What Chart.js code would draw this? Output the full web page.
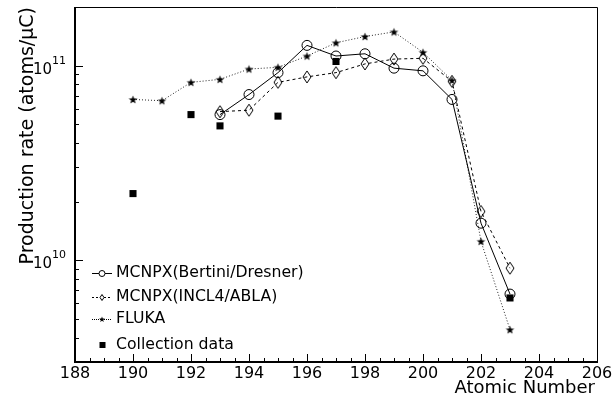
<!DOCTYPE html>
<html>
<head>
<meta charset="utf-8">
<script src="https://cdn.jsdelivr.net/npm/chart.js@4.4.1/dist/chart.umd.min.js"></script>
<style>
  html, body { margin: 0; padding: 0; background: #fff; }
  #wrap { width: 612px; height: 401px; position: relative; }
</style>
</head>
<body>
<div id="wrap"><canvas id="prodChart"></canvas></div>
<script>
// production rates per atomic number (atoms/uC)
const zBertini = [193, 194, 195, 196, 197, 198, 199, 200, 201, 202, 203];
const bertini = [5.6e10, 7.1e10, 9.2e10, 1.27e11, 1.12e11, 1.15e11, 9.7e10, 9.4e10, 6.7e10, 1.55e10, 6.7e9];

const zIncl = [193, 194, 195, 196, 197, 198, 199, 200, 201, 202, 203];
const incl4 = [5.8e10, 5.9e10, 8.2e10, 8.75e10, 9.2e10, 1.02e11, 1.08e11, 1.09e11, 8.3e10, 1.78e10, 9.1e9];

const zFluka = [190, 191, 192, 193, 194, 195, 196, 197, 198, 199, 200, 201, 202, 203];
const fluka = [6.7e10, 6.6e10, 8.2e10, 8.5e10, 9.6e10, 9.8e10, 1.12e11, 1.31e11, 1.41e11, 1.49e11, 1.17e11, 8.4e10, 1.25e10, 4.4e9];

const zMeasured = [190, 192, 193, 195, 197, 203];
const measured = [2.2e10, 5.6e10, 4.9e10, 5.5e10, 1.05e11, 6.4e9];

const seriesNames = ["MCNPX(Bertini/Dresner)", "MCNPX(INCL4/ABLA)", "FLUKA", "Collection data"];

const xTicks = [188, 190, 192, 194, 196, 198, 200, 202, 204, 206];
const yDecades = [10, 11];

const FONT = '"DejaVu Sans", sans-serif';

function pairs(xs, ys) {
    return xs.map((x, i) => ({ x: x, y: ys[i] }));
}

// little marker sprites
function starSprite(r) {
    const c = document.createElement("canvas");
    const s = Math.ceil(r * 2 + 2);
    c.width = s; c.height = s;
    const g = c.getContext("2d");
    drawStar(g, s / 2, s / 2 + r * 0.1, r);
    return c;
}
function drawStar(g, cx, cy, r) {
    g.beginPath();
    for (let i = 0; i < 10; i++) {
        const rr = i % 2 === 0 ? r : r * 0.42;
        const a = -Math.PI / 2 + i * Math.PI / 5;
        const px = cx + rr * Math.cos(a), py = cy + rr * Math.sin(a);
        if (i === 0) g.moveTo(px, py); else g.lineTo(px, py);
    }
    g.closePath();
    g.fillStyle = "#000";
    g.fill();
}
function diamondSprite(w, h) {
    const c = document.createElement("canvas");
    c.width = w + 2; c.height = h + 2;
    const g = c.getContext("2d");
    drawDiamond(g, c.width / 2, c.height / 2, w, h);
    return c;
}
function drawDiamond(g, cx, cy, w, h) {
    g.beginPath();
    g.moveTo(cx, cy - h / 2);
    g.lineTo(cx + w / 2, cy);
    g.lineTo(cx, cy + h / 2);
    g.lineTo(cx - w / 2, cy);
    g.closePath();
    g.strokeStyle = "#000";
    g.lineWidth = 1;
    g.stroke();
}

// frame, inward ticks, labels, titles and legend
const frameAndText = {
    id: "frameAndText",
    afterDraw(chart) {
        const ctx = chart.ctx;
        const area = chart.chartArea;
        const xs = chart.scales.x, ys = chart.scales.y;
        ctx.save();
        ctx.strokeStyle = "#000";
        ctx.fillStyle = "#000";

        // frame
        ctx.lineWidth = 1;
        ctx.beginPath();
        ctx.moveTo(area.left, area.top + 0.5);
        ctx.lineTo(area.right + 0.5, area.top + 0.5);
        ctx.lineTo(area.right + 0.5, area.bottom);
        ctx.stroke();
        ctx.lineWidth = 2;
        ctx.beginPath();
        ctx.moveTo(area.left, area.top);
        ctx.lineTo(area.left, area.bottom);
        ctx.lineTo(area.right + 1, area.bottom);
        ctx.stroke();

        // x ticks: major every 2, minor every 0.5
        ctx.lineWidth = 1;
        ctx.beginPath();
        for (let v = xs.min; v <= xs.max + 1e-9; v += 0.5) {
            const px = Math.round(xs.getPixelForValue(v)) + 0.5;
            const len = (Math.abs(v % 2) < 1e-9) ? 8 : 4;
            ctx.moveTo(px, area.bottom);
            ctx.lineTo(px, area.bottom - len);
        }
        ctx.stroke();

        // y ticks on log scale
        ctx.beginPath();
        for (let e = 9; e <= 11; e++) {
            for (let k = 1; k <= 9; k++) {
                const v = k * Math.pow(10, e);
                if (v < ys.min || v > ys.max * 0.999) continue;
                const py = Math.round(ys.getPixelForValue(v)) + 0.5;
                const len = k === 1 ? 8 : 4;
                ctx.moveTo(area.left, py);
                ctx.lineTo(area.left + len, py);
            }
        }
        ctx.stroke();

        // x tick labels
        ctx.font = "16px " + FONT;
        ctx.textAlign = "center";
        ctx.textBaseline = "alphabetic";
        xTicks.forEach(v => {
            ctx.fillText(String(v), xs.getPixelForValue(v), area.bottom + 16);
        });

        // y tick labels, 10 with exponent
        yDecades.forEach(e => {
            const py = ys.getPixelForValue(Math.pow(10, e));
            ctx.font = "15px " + FONT;
            ctx.textAlign = "right";
            ctx.fillText("10", area.left - 23, py + 8);
            ctx.font = "11px " + FONT;
            ctx.textAlign = "left";
            ctx.fillText(String(e), area.left - 23, py - 2);
        });

        // axis titles
        ctx.font = "18px " + FONT;
        ctx.textAlign = "right";
        ctx.fillText("Atomic Number", area.right - 2, area.bottom + 31);
        ctx.save();
        ctx.font = "19px " + FONT;
        ctx.translate(33, area.top);
        ctx.rotate(-Math.PI / 2);
        ctx.textAlign = "right";
        ctx.fillText("Production rate (atoms/\u03bcC)", 0, 0);
        ctx.restore();

        // legend
        const rows = [273, 297, 319, 345];
        const x0 = 92, x1 = 112, xm = 102, xt = 116;
        ctx.font = "15.7px " + FONT;
        ctx.textAlign = "left";
        ctx.textBaseline = "middle";
        rows.forEach((ry, i) => {
            ctx.fillText(seriesNames[i], xt, ry);
        });
        ctx.lineWidth = 1;
        ctx.setLineDash([]);
        ctx.beginPath();
        ctx.moveTo(x0, rows[0] + 0.5); ctx.lineTo(xm - 3, rows[0] + 0.5);
        ctx.moveTo(xm + 3, rows[0] + 0.5); ctx.lineTo(x1, rows[0] + 0.5);
        ctx.stroke();
        ctx.beginPath();
        ctx.arc(xm, rows[0] + 0.5, 3, 0, Math.PI * 2);
        ctx.stroke();
        ctx.setLineDash([2, 2]);
        ctx.beginPath();
        ctx.moveTo(x0, rows[1] + 0.5); ctx.lineTo(x1, rows[1] + 0.5);
        ctx.stroke();
        ctx.setLineDash([]);
        ctx.fillStyle = "#fff";
        ctx.fillRect(xm - 2, rows[1] - 3, 4, 7);
        drawDiamond(ctx, xm, rows[1] + 0.5, 4, 6);
        ctx.setLineDash([1, 1]);
        ctx.beginPath();
        ctx.moveTo(x0, rows[2] + 0.5); ctx.lineTo(x1, rows[2] + 0.5);
        ctx.stroke();
        ctx.setLineDash([]);
        drawStar(ctx, xm, rows[2] + 0.5, 3);
        ctx.fillStyle = "#000";
        ctx.fillRect(xm - 2.5, rows[3] - 3, 6, 6);
        ctx.restore();
    }
};

const star = starSprite(4.5);
const diamond = diamondSprite(8, 12);

new Chart(document.getElementById("prodChart"), {
    type: "line",
    data: {
        datasets: [
            {
                label: seriesNames[0],
                data: pairs(zBertini, bertini),
                borderColor: "#000",
                borderWidth: 1,
                pointStyle: "circle",
                pointRadius: 5,
                pointBorderWidth: 1,
                pointBorderColor: "#000",
                pointBackgroundColor: "rgba(0,0,0,0)"
            },
            {
                label: seriesNames[1],
                data: pairs(zIncl, incl4),
                borderColor: "#000",
                borderWidth: 1,
                borderDash: [3, 3],
                pointStyle: diamond,
                pointRadius: 6
            },
            {
                label: seriesNames[2],
                data: pairs(zFluka, fluka),
                borderColor: "#222",
                borderWidth: 1,
                borderDash: [1, 2],
                pointStyle: star,
                pointRadius: 5
            },
            {
                label: seriesNames[3],
                data: pairs(zMeasured, measured),
                showLine: false,
                pointStyle: "rect",
                pointRadius: 5,
                pointBorderWidth: 0,
                pointBackgroundColor: "#000",
                pointBorderColor: "#000"
            }
        ]
    },
    options: {
        responsive: true,
        maintainAspectRatio: false,
        animation: false,
        layout: { padding: { left: 75, right: 15, top: 3, bottom: 39 } },
        elements: { line: { tension: 0, fill: false } },
        plugins: {
            legend: { display: false },
            tooltip: { enabled: false }
        },
        scales: {
            x: { type: "linear", min: 188, max: 206, display: false },
            y: { type: "logarithmic", min: 3e9, max: 2e11, display: false }
        }
    },
    plugins: [frameAndText]
});
</script>
</body>
</html>
